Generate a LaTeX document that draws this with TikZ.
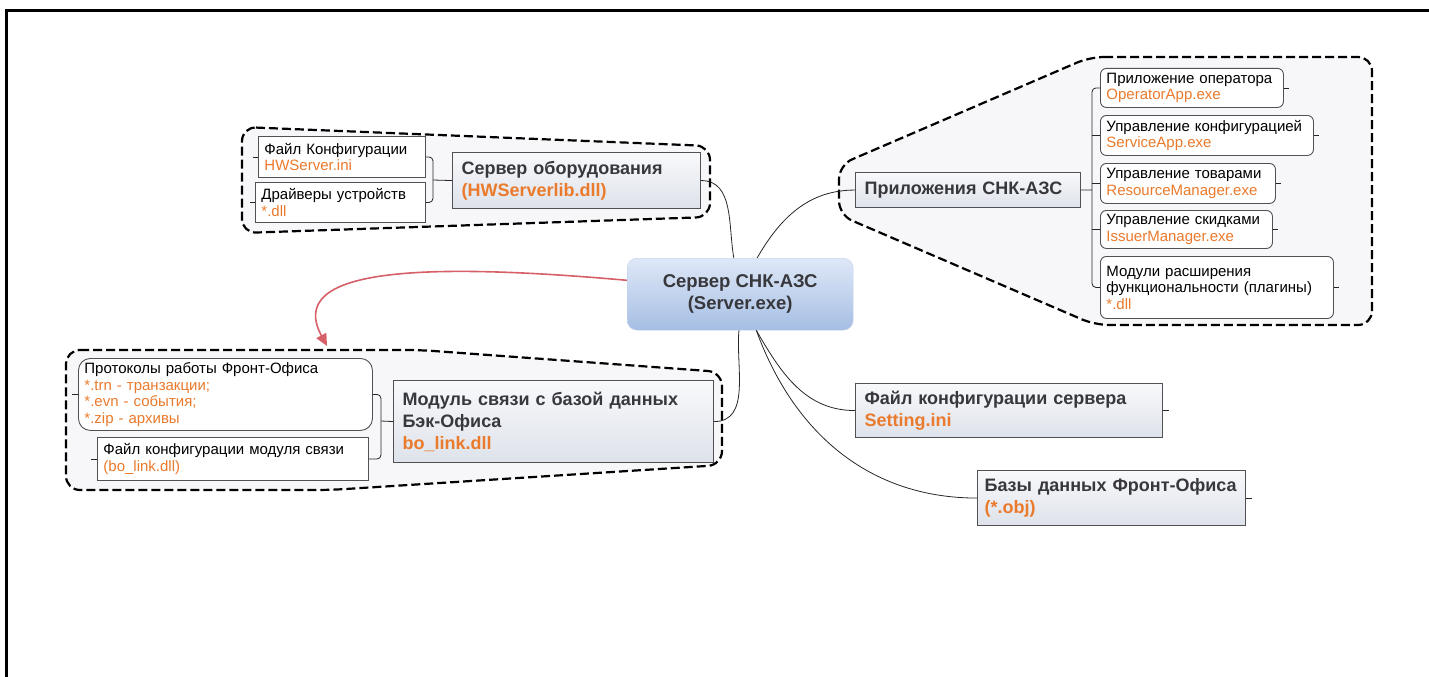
\documentclass[tikz,border=0pt]{standalone}
\usepackage{fontspec}
\setmainfont{Liberation Sans}
\usetikzlibrary{arrows.meta}
\definecolor{fileorange}{RGB}{234,122,44}
\definecolor{titlegray}{RGB}{55,55,60}
\definecolor{framegray}{RGB}{80,80,85}
\definecolor{blobfill}{RGB}{247,247,249}
\definecolor{topictop}{RGB}{248,249,251}
\definecolor{topicbot}{RGB}{222,226,234}
\definecolor{centretop}{RGB}{222,232,247}
\definecolor{centrebot}{RGB}{166,190,228}
\definecolor{arrowred}{RGB}{214,96,104}
\newcommand{\fname}[1]{\textcolor{fileorange}{#1}}
\begin{document}
\begin{tikzpicture}[x=1pt,y=-1pt,
  blob/.style={draw=black,line width=2.2pt,dash pattern=on 9pt off 4pt,fill=blobfill,rounded corners=14pt},
  topic/.style={anchor=north west,draw=framegray,line width=1.1pt,top color=topictop,bottom color=topicbot,
    font=\fontsize{18}{22}\selectfont\bfseries,text=titlegray,align=left,inner xsep=9pt,inner ysep=0pt},
  centre/.style={anchor=north west,rounded corners=10pt,draw=centrebot!70,top color=centretop,bottom color=centrebot,
    font=\fontsize{18.5}{22}\selectfont\bfseries,text=titlegray,align=center,minimum width=226pt,minimum height=72pt},
  leaf/.style={anchor=north west,draw=framegray,line width=0.9pt,fill=white,
    font=\fontsize{15}{16.5}\selectfont,align=left,inner xsep=6pt,inner ysep=0pt},
  link/.style={line width=0.8pt,black!85},
  stub/.style={line width=0.8pt,black!85}]
\useasboundingbox (0,0) rectangle (1429,677);
\draw [line width=3pt] (6,677) -- (6,11) -- (1429,11);
\draw [blob] (242,127) -- (710,146) -- (710,217) -- (242,233) -- cycle;
\draw [blob] (1090,57) -- (1372,57) -- (1372,325) -- (1095,325) -- (839,215) -- (839,165) -- cycle;
\draw [blob] (66,350) -- (420,350) -- (722,372) -- (722,465) -- (330,490) -- (66,490) -- cycle;
\node [centre] (srv) at (627,258) {Сервер СНК-АЗС\\(Server.exe)};
\node [topic,text width=230pt,minimum height=56pt] (hw) at (452,152) {Сервер оборудования\\\fname{(HWServerlib.dll)}};
\node [leaf,text width=155pt,minimum height=41pt] (hwini) at (258,136) {Файл Конфигурации\\\fname{HWServer.ini}};
\node [leaf,text width=158pt,minimum height=40pt] (drv) at (255,182) {Драйверы устройств\\\fname{*.dll}};
\node [topic,text width=207pt,minimum height=35pt] (apps) at (855,172) {Приложения СНК-АЗС};
\node [leaf,rounded corners=6pt,text width=171pt,minimum height=39pt] (op) at (1100,68) {Приложение оператора\\\fname{OperatorApp.exe}};
\node [leaf,rounded corners=6pt,text width=201pt,minimum height=40pt] (svc) at (1100,115) {Управление конфигурацией\\\fname{ServiceApp.exe}};
\node [leaf,rounded corners=6pt,text width=163pt,minimum height=40pt] (res) at (1100,163) {Управление товарами\\\fname{ResourceManager.exe}};
\node [leaf,rounded corners=6pt,text width=160pt,minimum height=38pt] (iss) at (1100,210) {Управление скидками\\\fname{IssuerManager.exe}};
\node [leaf,rounded corners=6pt,text width=221pt,minimum height=62pt] (plug) at (1100,256) {Модули расширения\\функциональности (плагины)\\\fname{*.dll}};
\node [topic,text width=302pt,minimum height=82pt] (bo) at (393,380) {Модуль связи с базой данных\\Бэк-Офиса\\\fname{bo\_link.dll}};
\node [leaf,rounded corners=12pt,text width=282pt,minimum height=72pt] (proto) at (78,358) {Протоколы работы Фронт-Офиса\\\fname{*.trn - транзакции;}\\\fname{*.evn - события;}\\\fname{*.zip - архивы}};
\node [leaf,text width=259pt,minimum height=43pt] (bocfg) at (97,437) {Файл конфигурации модуля связи\\\fname{(bo\_link.dll)}};
\node [topic,text width=289pt,minimum height=54pt] (set) at (855,383) {Файл конфигурации сервера\\\fname{Setting.ini}};
\node [topic,inner xsep=7pt,text width=254pt,minimum height=55pt] (db) at (977,470) {Базы данных Фронт-Офиса\\\fname{(*.obj)}};
\draw [link] (hw.east) to[out=0,in=100] (srv.100);
\draw [link] (srv.65) to[out=60,in=180] (apps.west);
\draw [link] (srv.268) to[out=-95,in=0] (bo.east);
\draw [link] (srv.-66) to[out=-60,in=180] (set.west);
\draw [link] (srv.-66) to[out=-70,in=180] (db.west);
\coordinate (hwjoin) at (433,180);
\draw [link,rounded corners=4pt] (hwini.east) -| (hwjoin) |- (drv.east);
\draw [link] (hwjoin) -- (hw.west);
\coordinate (appjoin) at (1092,190);
\draw [link] (apps.east) -- (appjoin);
\draw [link,rounded corners=4pt] (op.west) -| (appjoin) |- (plug.west);
\foreach \n in {svc,res,iss}
  \draw [link] (\n.west) -- (\n.west -| appjoin);
\coordinate (bojoin) at (381,421);
\draw [link,rounded corners=4pt] (proto.east) -| (bojoin) |- (bocfg.east);
\draw [link] (bojoin) -- (bo.west);
\draw [stub] (hwini.west) -- +(-5,0);
\draw [stub] (drv.west) -- +(-5,0);
\draw [stub] (proto.west) -- +(-6,0);
\draw [stub] (bocfg.west) -- +(-6,0);
\foreach \n in {op,svc,res,iss,plug}
  \draw [stub] (\n.east) -- +(5,0);
\draw [stub] (set.east) -- +(6,0);
\draw [stub] (db.east) -- +(6,0);
\coordinate (arrowend) at (327,346);
\draw [arrowred,line width=1.6pt,-{Triangle[length=12pt,width=11pt]}] (srv.173) .. controls (420,262) and (285,268) .. (arrowend);
\end{tikzpicture}
\end{document}
